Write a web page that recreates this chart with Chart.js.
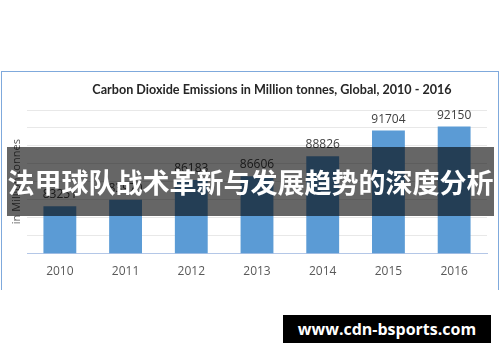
<!DOCTYPE html>
<html>
<head>
<meta charset="utf-8">
<script src="https://cdn.jsdelivr.net/npm/chart.js@4.4.1/dist/chart.umd.min.js"></script>
<style>
  html, body { margin: 0; padding: 0; background: #fff; }
  #wrap { position: relative; width: 500px; height: 362px; overflow: hidden; }
  #frame {
    position: absolute; left: 1px; top: 71px; width: 496px; height: 218px;
    border: 1px solid #7fa9dc; border-bottom: none;
  }
  #chart { position: absolute; left: 0; top: 0; }
  #banner {
    position: absolute; left: 7px; top: 147px; width: 487px; height: 69px;
    background: rgba(0, 0, 0, 0.6); color: #fff;
    font-family: "Noto Sans CJK SC", sans-serif; font-weight: bold; font-size: 27px;
    line-height: 69px; text-align: center; white-space: nowrap; overflow: hidden;
  }
  #mark {
    position: absolute; left: 283px; top: 315px; width: 208px; height: 28px;
    background: #000; color: #fff;
    font-family: "Open Sans", sans-serif; font-weight: bold; font-size: 16px;
    line-height: 28px; text-align: center;
  }
</style>
</head>
<body>
<div id="wrap">
  <div id="frame"></div>
  <canvas id="chart" width="500" height="362"></canvas>
  <div id="banner">法甲球队战术革新与发展趋势的深度分析</div>
  <div id="mark">www.cdn-bsports.com</div>
</div>
<script>
// ---- data ----
const years = ["2010", "2011", "2012", "2013", "2014", "2015", "2016"];
const emissions = [83251, 83970, 86183, 86606, 88826, 91704, 92150];
const yMin = 78000;
const yMax = 94000;
const yStep = 2000;
const chartTitle = "Carbon Dioxide Emissions in Million tonnes, Global, 2010 - 2016";
const yTitle = "in Million tonnes";

// value labels above each bar
const valueLabels = {
    id: "valueLabels",
    afterDatasetsDraw(chart) {
        const ctx = chart.ctx;
        const meta = chart.getDatasetMeta(0);
        ctx.save();
        ctx.font = "12px 'Open Sans', sans-serif";
        ctx.fillStyle = "#404040";
        ctx.textAlign = "center";
        ctx.textBaseline = "alphabetic";
        meta.data.forEach((bar, i) => {
            ctx.fillText(String(emissions[i]), bar.x, bar.y - 8);
        });
        ctx.restore();
    }
};

// chart title, placed like the original (slightly right of centre)
const topTitle = {
    id: "topTitle",
    afterDraw(chart) {
        const ctx = chart.ctx;
        ctx.save();
        ctx.font = "bold 12.6px Lato, sans-serif";
        ctx.fillStyle = "#262626";
        ctx.textAlign = "center";
        ctx.textBaseline = "middle";
        ctx.fillText(chartTitle, 272, 90);
        ctx.restore();
    }
};

const ctx = document.getElementById("chart").getContext("2d");
const co2Chart = new Chart(ctx, {
    type: "bar",
    data: {
        labels: years,
        datasets: [{
            data: emissions,
            backgroundColor: "#5b9bd5",
            borderWidth: 0,
            barPercentage: 0.5,
            categoryPercentage: 1.0
        }]
    },
    options: {
        responsive: false,
        animation: false,
        layout: { padding: { left: 4.8, right: 13, top: 110, bottom: 72.3 } },
        plugins: {
            legend: { display: false },
            title: { display: false },
            tooltip: { enabled: false }
        },
        scales: {
            x: {
                grid: { display: false, drawTicks: false },
                border: { display: true, color: "#b4c7e7", width: 1 },
                ticks: {
                    padding: 11,
                    color: "#595959",
                    maxRotation: 0,
                    font: { family: "'Open Sans', sans-serif", size: 12 }
                }
            },
            y: {
                min: yMin,
                max: yMax,
                grid: { color: "#e8e8e8", drawTicks: false },
                border: { display: false },
                ticks: { display: false, stepSize: yStep },
                title: {
                    display: true,
                    text: yTitle,
                    color: "#595959",
                    padding: { top: 5, bottom: 4 },
                    font: { family: "'Open Sans', sans-serif", size: 11 }
                }
            }
        }
    },
    plugins: [valueLabels, topTitle]
});
</script>
</body>
</html>
